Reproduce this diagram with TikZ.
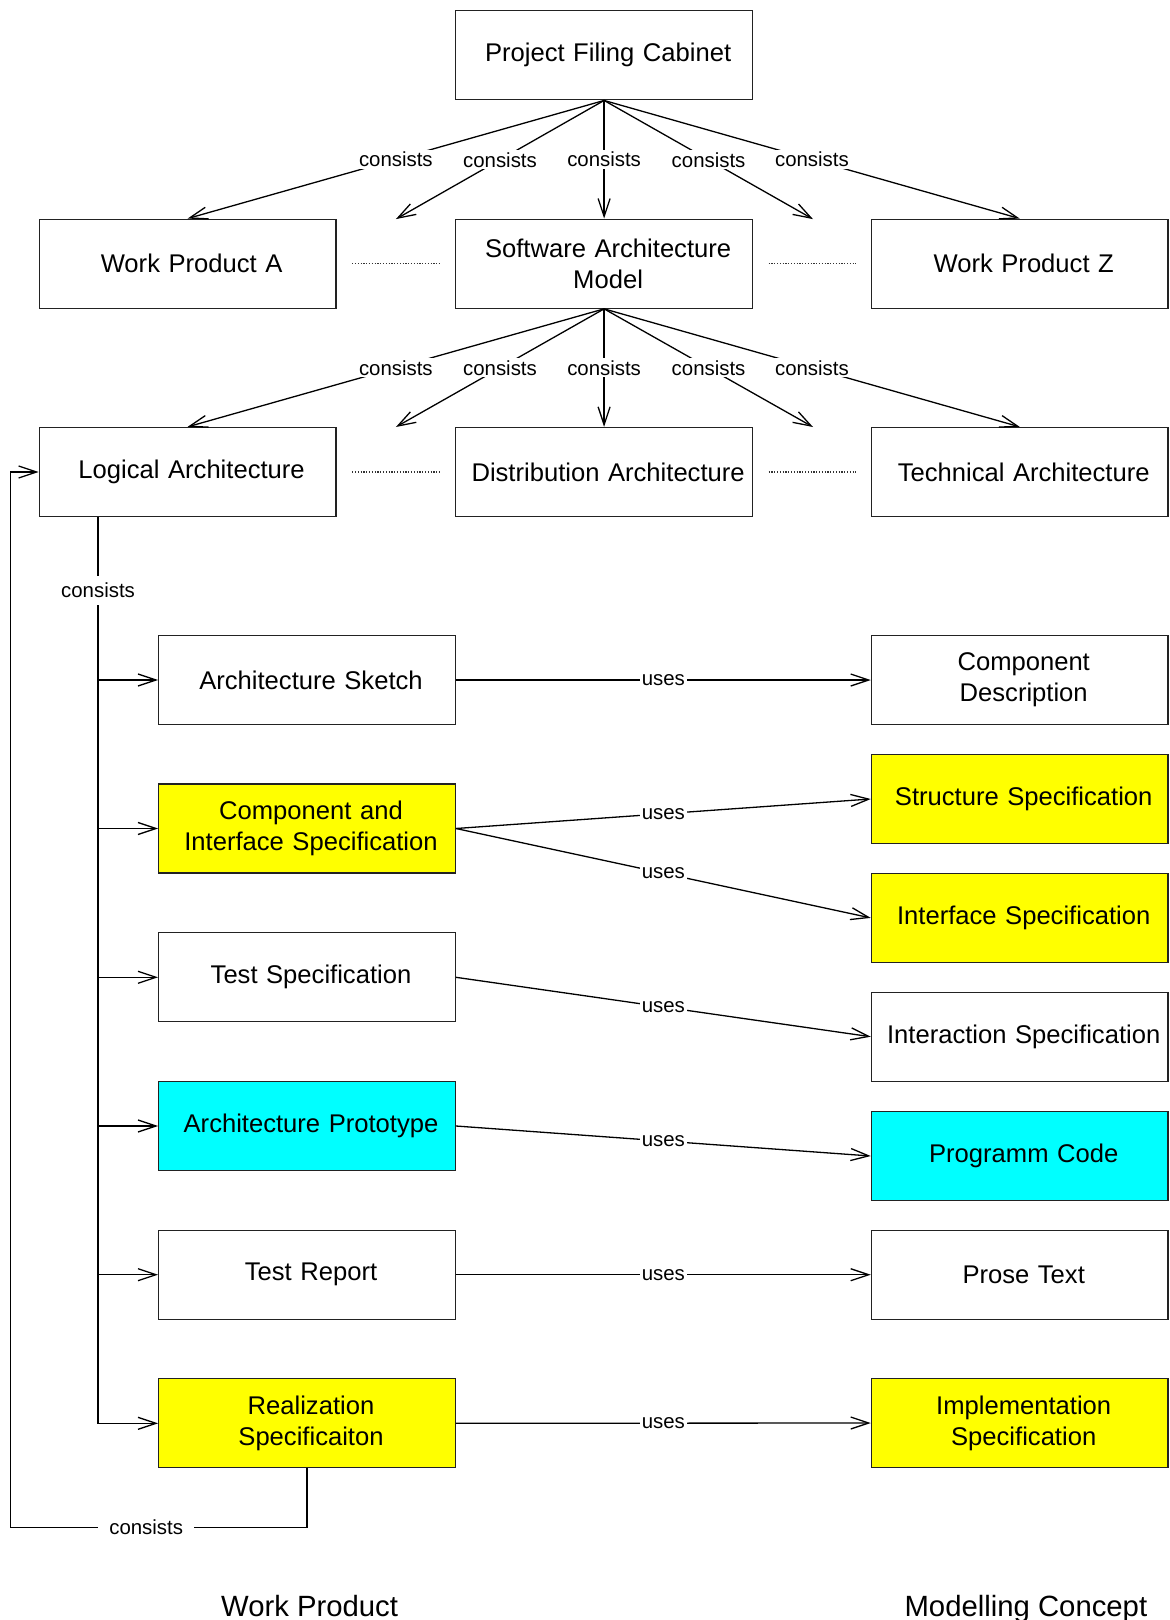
\documentclass[tikz,border=0pt]{standalone}
\usepackage{fontspec}
\setmainfont{Liberation Sans}
\usetikzlibrary{arrows.meta}

\definecolor{boxyellow}{RGB}{255,255,0}
\definecolor{boxcyan}{RGB}{0,255,255}
\definecolor{boxline}{RGB}{34,34,34}

\begin{document}
\begin{tikzpicture}[x=1pt,y=-1pt,
  box/.style={draw=boxline, line width=1.3pt, minimum width=296.6pt, minimum height=89pt,
    inner sep=0pt, text width=296.6pt, font=\fontsize{25.6}{31}\selectfont, fill=white,
    execute at begin node={\leftskip=8pt plus 1fil\rightskip=0pt plus 1fil\parfillskip=0pt\relax}},
  yellowbox/.style={box, fill=boxyellow},
  cyanbox/.style={box, fill=boxcyan},
  conn/.style={line width=1.3pt, draw=black},
  arr/.style={conn, -{Straight Barb[length=18pt,width=12pt,line width=1.3pt]}},
  lbl/.style={fill=white, inner sep=2pt, font=\fontsize{20.4}{24}\selectfont},
  widelbl/.style={lbl, inner xsep=11pt, inner ysep=7pt},
  ellipsis/.style={line width=1.2pt, draw=black!80, dash pattern=on 1.2pt off 1.6pt},
  caption/.style={anchor=base, font=\fontsize{29.3}{35}\selectfont}
]
% canvas
\fill[white] (0,0) rectangle (1170,1620);
\useasboundingbox (0,0) rectangle (1170,1620);

% top levels
\node[box] (pfc) at (604.1,55.3) {Project Filing Cabinet};
\node[box] (wpa) at (187.6,263.7) {Work Product A};
\node[box] (sam) at (604.1,263.7) {Software Architecture\\Model};
\node[box] (wpz) at (1019.7,263.7) {Work Product Z};
\node[box] (logarch) at (187.6,472) {Logical Architecture};
\node[box] (distarch) at (604.1,472) {Distribution Architecture};
\node[box] (techarch) at (1019.7,472) {Technical Architecture};

% open ends of the elided work products
\coordinate (openA) at (395.9,219.1);
\coordinate (openB) at (813,219.1);
\coordinate (openC) at (395.9,427);
\coordinate (openD) at (813,427);

% work products of the logical architecture
\node[box] (sketch) at (307,680) {Architecture Sketch};
\node[yellowbox] (cispec) at (307,828.5) {Component and\\Interface Specification};
\node[box] (testspec) at (307,977.3) {Test Specification};
\node[cyanbox] (proto) at (307,1126) {Architecture Prototype};
\node[box] (testrep) at (307,1274.7) {Test Report};
\node[yellowbox] (realspec) at (307,1423.3) {Realization\\Specificaiton};

% modelling concepts
\node[box] (compdesc) at (1019.7,680) {Component\\Description};
\node[yellowbox] (structspec) at (1019.7,799) {Structure Specification};
\node[yellowbox] (ifspec) at (1019.7,917.9) {Interface Specification};
\node[box] (interspec) at (1019.7,1036.7) {Interaction Specification};
\node[cyanbox] (progcode) at (1019.7,1156) {Programm Code};
\node[box] (prose) at (1019.7,1274.7) {Prose Text};
\node[yellowbox] (implspec) at (1019.7,1423) {Implementation\\Specification};

% consists: filing cabinet
\draw[arr] (pfc.south) -- node[lbl]{consists} (wpa.north);
\draw[arr] (pfc.south) -- node[lbl]{consists} (openA);
\draw[arr] (pfc.south) -- node[lbl]{consists} (sam.north);
\draw[arr] (pfc.south) -- node[lbl]{consists} (openB);
\draw[arr] (pfc.south) -- node[lbl]{consists} (wpz.north);

% consists: software architecture model
\draw[arr] (sam.south) -- node[lbl]{consists} (logarch.north);
\draw[arr] (sam.south) -- node[lbl]{consists} (openC);
\draw[arr] (sam.south) -- node[lbl]{consists} (distarch.north);
\draw[arr] (sam.south) -- node[lbl]{consists} (openD);
\draw[arr] (sam.south) -- node[lbl]{consists} (techarch.north);

% elisions between siblings
\draw[ellipsis] ([xshift=15.6pt]wpa.east) -- ([xshift=-14.8pt]sam.west);
\draw[ellipsis] ([xshift=15.6pt]sam.east) -- ([xshift=-14.8pt]wpz.west);
\draw[ellipsis] ([xshift=15.6pt]logarch.east) -- ([xshift=-14.8pt]distarch.west);
\draw[ellipsis] ([xshift=15.6pt]distarch.east) -- ([xshift=-14.8pt]techarch.west);

% consists: logical architecture (labelled branch drawn last so its label stays on top)
\coordinate (trunk) at ([xshift=59.4pt]logarch.south west);
\draw[arr] (trunk) |- (realspec.west);
\draw[arr] (trunk) |- (testrep.west);
\draw[arr] (trunk) |- (proto.west);
\draw[arr] (trunk) |- (testspec.west);
\draw[arr] (trunk) |- (cispec.west);
\draw[arr] (trunk) |- node[widelbl,pos=0.225]{consists} (sketch.west);

% consists: back to the logical architecture
\coordinate (loopcorner) at (10.3,1527.5);
\draw[arr] (realspec.south) |- node[widelbl,pos=0.771]{consists} (loopcorner) |- (logarch.west);

% uses
\draw[arr] (sketch.east) -- node[lbl]{uses} (compdesc.west);
\draw[arr] (cispec.east) -- node[lbl]{uses} (structspec.west);
\draw[arr] (cispec.east) -- node[lbl]{uses} (ifspec.west);
\draw[arr] (testspec.east) -- node[lbl]{uses} (interspec.west);
\draw[arr] (proto.east) -- node[lbl]{uses} (progcode.west);
\draw[arr] (testrep.east) -- node[lbl]{uses} (prose.west);
\draw[arr] (realspec.east) -- node[lbl]{uses} (implspec.west);

% column captions
\node[caption] (wpcap) at (309.6,1616) {Work Product};
\node[caption] (mccap) at (1025.9,1616) {Modelling Concept};
\end{tikzpicture}
\end{document}
